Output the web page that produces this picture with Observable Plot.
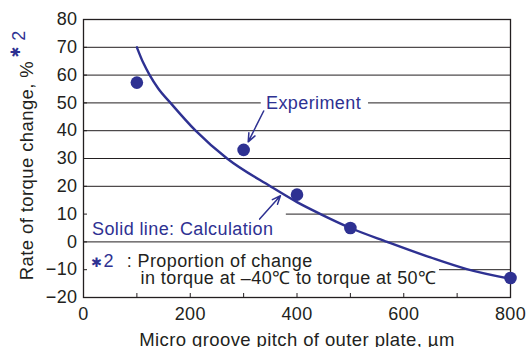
<!DOCTYPE html>
<html><head><meta charset="utf-8">
<script src="https://cdn.jsdelivr.net/npm/d3@7"></script>
<script src="https://cdn.jsdelivr.net/npm/@observablehq/plot@0.6"></script>
<style>
html,body{margin:0;padding:0;background:#fff;}
</style>
</head><body><div id="chart"></div>
<script>
// Experiment (dots)
const expX = [100, 300, 400, 500, 800];
const expY = [57.3, 33.1, 17.0, 5.0, -13.0];
// Calculation (solid line)
const calcX = [100, 112, 124, 140, 163, 210, 269, 350, 400, 444, 500, 569, 650, 718, 800];
const calcY = [70, 64.4, 60, 55.2, 50, 40, 30, 20, 14.3, 10, 5, 0, -5.6, -9.8, -13.3];
// Axis ticks
const xTicks = [0, 200, 400, 600, 800];
const xMinorTicks = [100, 200, 300, 400, 500, 600, 700];
const yTicks = [-20, -10, 0, 10, 20, 30, 40, 50, 60, 70, 80];
const gridY = [-10, 0, 10, 20, 30, 40, 50, 60, 70];
// Texts
const xLabel = "Micro groove pitch of outer plate, µm";
const yLabel = "Rate of torque change, %";
const noteMark = "✱";
const noteNumber = "2";
const centeredNotes = [
  {x: 431, y: 49.8, text: "Experiment", color: "blue"}
];
const leftNotes = [
  {x: 16, y: 4.6, text: "Solid line: Calculation", color: "blue"},
  {x: 37.5, y: -6.8, text: noteNumber, color: "blue"},
  {x: 81, y: -6.8, text: ": Proportion of change", color: "ink"}
];
const footLine2 = [{x: 107, y: -12.9, text: "in torque at –40℃ to torque at 50℃"}];
const starNotes = [{x: 25.3, y: -7.4, text: noteMark}];
const arrows = [
  {x1: 337.6, y1: 47.1, x2: 308.6, y2: 36.0},
  {x1: 330, y1: 8.2, x2: 369, y2: 16.6}
];
// white boxes behind the annotation texts (break the gridlines)
const masks = [
  {x1: 0, x2: 380, y1: 8.6, y2: 11.4},
  {x1: 333, x2: 534, y1: 48.6, y2: 51.4},
  {x1: 0, x2: 667, y1: -11.4, y2: -8.6}
];

const blue = "#2e3192";
const ink = "#231f20";
const expData = expX.map((x, i) => ({x, y: expY[i]}));
const calcData = calcX.map((x, i) => ({x, y: calcY[i]}));
const colorOf = d => d.color === "blue" ? blue : ink;

const chart = Plot.plot({
  width: 529, height: 347,
  marginLeft: 83, marginRight: 19, marginTop: 19, marginBottom: 50,
  style: {fontFamily: "'Liberation Sans', Arial, sans-serif", fontSize: "18px", letterSpacing: "0.4px", background: "#fff", color: ink, overflow: "visible"},
  x: {domain: [0, 800], label: null},
  y: {domain: [-20, 80], label: null},
  marks: [
    Plot.ruleY(gridY, {stroke: ink, strokeWidth: 1}),
    Plot.rect(masks, {x1: "x1", x2: "x2", y1: "y1", y2: "y2", fill: "white"}),
    Plot.frame({stroke: ink, strokeWidth: 1.3}),
    Plot.axisX(xMinorTicks, {tickSize: -4, tickFormat: () => "", stroke: ink}),
    Plot.axisX(xTicks, {tickSize: 0, tickPadding: 10, fontSize: 18, fill: ink}),
    Plot.axisY(yTicks, {tickSize: -4, tickFormat: () => "", stroke: ink}),
    Plot.axisY(yTicks, {tickSize: 0, tickPadding: 6, fontSize: 18, fill: ink}),
    Plot.line(calcData, {x: "x", y: "y", curve: "monotone-x", stroke: blue, strokeWidth: 2.4}),
    Plot.dot(expData, {x: "x", y: "y", r: 6.3, fill: blue}),
    Plot.arrow(arrows, {x1: "x1", y1: "y1", x2: "x2", y2: "y2", stroke: blue, strokeWidth: 1.5, headLength: 9, headAngle: 45}),
    Plot.text(centeredNotes, {x: "x", y: "y", text: "text", textAnchor: "middle", fill: colorOf, fontSize: 18, lineAnchor: "middle"}),
    Plot.text(leftNotes, {x: "x", y: "y", text: "text", textAnchor: "start", fill: colorOf, fontSize: 18, lineAnchor: "middle"}),
    Plot.text(footLine2, {x: "x", y: "y", text: "text", textAnchor: "start", fill: ink, fontSize: 18, lineAnchor: "middle", letterSpacing: "1px"}),
    Plot.text(starNotes, {x: "x", y: "y", text: "text", textAnchor: "middle", fill: blue, fontSize: 13, fontFamily: "DejaVu Sans", lineAnchor: "middle"}),
    Plot.text([xLabel], {frameAnchor: "bottom", dy: 42.5, fontSize: 18.5, fill: ink, lineAnchor: "middle"}),
    Plot.text([yLabel], {frameAnchor: "left", rotate: -90, dx: -56, dy: 12, fontSize: 18.5, fill: ink, lineAnchor: "middle", textAnchor: "middle", letterSpacing: "0.6px"}),
    Plot.text([noteNumber], {frameAnchor: "top-left", rotate: -90, dx: -64.7, dy: 16, fontSize: 18, fill: blue, lineAnchor: "middle", textAnchor: "middle"}),
    Plot.text([noteMark], {frameAnchor: "top-left", rotate: -90, dx: -67.2, dy: 32, fontSize: 13, fontFamily: "DejaVu Sans", fill: blue, lineAnchor: "middle", textAnchor: "middle"})
  ]
});
document.getElementById("chart").appendChild(chart);
</script>
</body></html>
